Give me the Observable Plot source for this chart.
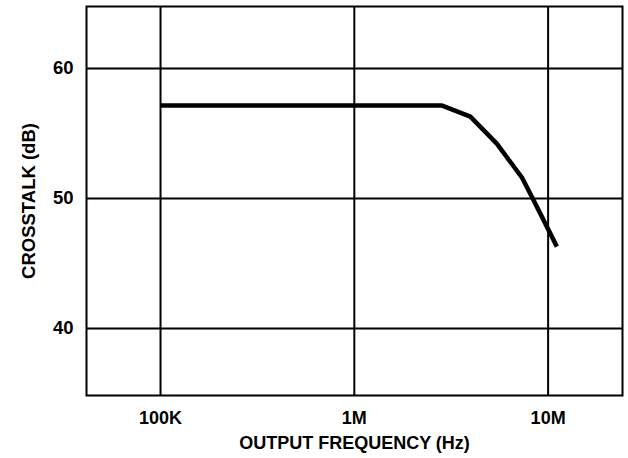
<!DOCTYPE html>
<html>
<head>
<meta charset="utf-8">
<script src="https://cdn.jsdelivr.net/npm/d3@7"></script>
<script src="https://cdn.jsdelivr.net/npm/@observablehq/plot@0.6"></script>
<style>
  html, body { margin: 0; padding: 0; background: #fff; }
  #chart { width: 628px; height: 458px; }
</style>
</head>
<body>
<div id="chart"></div>
<script>
// Data
const freqHz = [1e5, 2.84e6, 3.97e6, 5.45e6, 7.34e6, 8.39e6, 11.1e6];
const crosstalkDb = [57.15, 57.15, 56.3, 54.2, 51.6, 49.9, 46.3];

const xTicks = [1e5, 1e6, 1e7];
const xTickLabels = ["100K", "1M", "10M"];
const yTicks = [40, 50, 60];
const yTickLabels = ["40", "50", "60"];

const xLabel = "OUTPUT FREQUENCY (Hz)";
const yLabel = "CROSSTALK (dB)";

const data = freqHz.map((f, i) => ({f, db: crosstalkDb[i]}));

const chart = Plot.plot({
  width: 628,
  height: 458,
  marginLeft: 86,
  marginRight: 6,
  marginTop: 6,
  marginBottom: 63,
  style: {fontFamily: "'Liberation Sans', Arial, sans-serif", fontWeight: "bold", color: "#000", background: "#fff", fontSize: "18px"},
  x: {type: "log", domain: [41.5e3, 24.2e6]},
  y: {domain: [34.85, 64.77]},
  marks: [
    Plot.ruleX(xTicks, {stroke: "#000", strokeWidth: 2}),
    Plot.ruleY(yTicks, {stroke: "#000", strokeWidth: 2}),
    Plot.frame({stroke: "#000", strokeWidth: 2}),
    Plot.line(data, {x: "f", y: "db", stroke: "#000", strokeWidth: 4.5, strokeLinejoin: "miter", strokeLinecap: "butt"}),
    Plot.axisX({
      ticks: xTicks,
      tickFormat: (d) => xTickLabels[xTicks.indexOf(d)],
      tickSize: 0,
      tickPadding: 16,
      fontSize: 18,
      label: xLabel,
      labelAnchor: "center",
      labelArrow: "none",
      labelOffset: 53
    }),
    Plot.axisY({
      ticks: yTicks,
      tickFormat: (d) => yTickLabels[yTicks.indexOf(d)],
      tickSize: 0,
      tickPadding: 13,
      fontSize: 18.5,
      label: yLabel,
      labelAnchor: "center",
      labelArrow: "none",
      labelOffset: 65
    })
  ]
});
document.getElementById("chart").appendChild(chart);
</script>
</body>
</html>
